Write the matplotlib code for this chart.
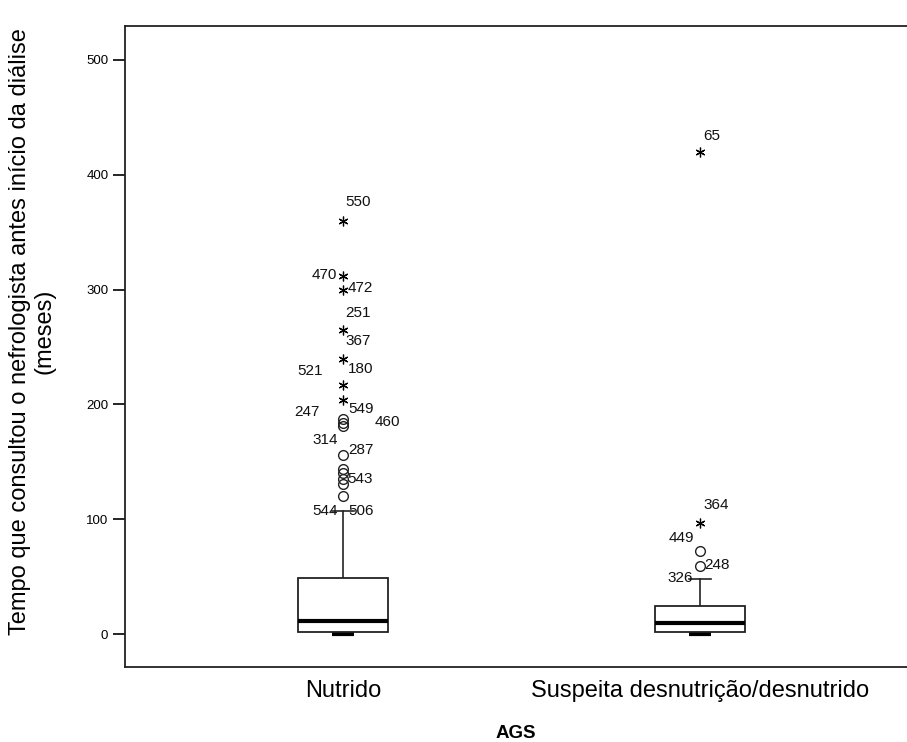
import numpy as np
import matplotlib
matplotlib.use("Agg")
import matplotlib.pyplot as plt

plt.rcParams["font.family"] = ["Liberation Sans", "DejaVu Sans"]

categories = ["Nutrido", "Suspeita desnutrição/desnutrido"]

# estatisticas das caixas (meses)
q1 = [2, 2]
median = [11.5, 9.5]
q3 = [48.5, 24.5]
whisk_lo = [0, 0]
whisk_hi = [107, 48]

# outliers: circulos (moderados) e asteriscos (extremos)
circ_nutr = [187, 184, 181, 156, 144, 140, 135, 131, 120]
star_nutr = [360, 312, 300, 265, 240, 217, 204]
circ_desn = [72, 59]
star_desn = [420, 97]

# rotulos dos casos: (texto, x, y)
case_labels = [
    ("550", 1.042, 376), ("470", 0.947, 313), ("472", 1.048, 301),
    ("251", 1.042, 280), ("367", 1.042, 255), ("521", 0.908, 229),
    ("180", 1.048, 231), ("247", 0.899, 193), ("549", 1.050, 196),
    ("460", 1.123, 185), ("314", 0.950, 169), ("287", 1.050, 160),
    ("543", 1.048, 135), ("544", 0.950, 107), ("506", 1.050, 107),
    ("364", 2.045, 112), ("449", 1.947, 84), ("248", 2.048, 60),
    ("326", 1.944, 49), ("65", 2.034, 434),
]

fig = plt.figure(figsize=(9.07, 7.42), dpi=100)
ax = fig.add_axes([0.1378, 0.101, 0.8622, 0.864])

box_w = 0.252
cap_w = 0.064
lc = "#222222"
for i in range(2):
    x = i + 1
    ax.add_patch(plt.Rectangle((x - box_w / 2, q1[i]), box_w, q3[i] - q1[i],
                               facecolor="white", edgecolor=lc, lw=1.3, zorder=2))
    ax.plot([x - box_w / 2, x + box_w / 2], [median[i]] * 2, color="black", lw=3, zorder=3,
            solid_capstyle="butt")
    ax.plot([x, x], [q3[i], whisk_hi[i]], color=lc, lw=1.2, zorder=1)
    ax.plot([x - cap_w / 2, x + cap_w / 2], [whisk_hi[i]] * 2, color=lc, lw=1.2, zorder=1)
    ax.plot([x - cap_w / 2, x + cap_w / 2], [whisk_lo[i]] * 2, color="black", lw=3, zorder=1,
            solid_capstyle="butt")

ax.plot([1] * len(circ_nutr), circ_nutr, "o", mfc="none", mec=lc, ms=7, mew=1.0, zorder=4)
ax.plot([2] * len(circ_desn), circ_desn, "o", mfc="none", mec=lc, ms=7, mew=1.0, zorder=4)
ax.plot([1] * len(star_nutr), star_nutr, marker=(6, 2, 0), ls="none", color="black",
        ms=7, mew=0.9, zorder=4)
ax.plot([2] * len(star_desn), star_desn, marker=(6, 2, 0), ls="none", color="black",
        ms=7, mew=0.9, zorder=4)

for txt, x, y in case_labels:
    ax.text(x, y, txt, fontsize=11, ha="center", va="center", color="#111111", zorder=5)

ax.set_xlim(0.389, 2.58)
ax.set_ylim(-28.7, 529.6)
ax.set_yticks([0, 100, 200, 300, 400, 500])
ax.set_xticks([1, 2])
ax.set_xticklabels(categories, fontsize=17)
ax.tick_params(axis="x", length=0, pad=9)
ax.tick_params(axis="y", length=9, width=1.2, labelsize=9.5, pad=3)
for side in ["left", "bottom", "top"]:
    ax.spines[side].set_linewidth(1.3)
    ax.spines[side].set_color(lc)
ax.spines["right"].set_visible(False)

ax.set_ylabel("Tempo que consultou o nefrologista antes início da diálise\n(meses)",
              fontsize=17, labelpad=22, linespacing=1.15, y=0.523)
ax.set_xlabel("AGS", fontsize=13.5, fontweight="bold", labelpad=17)

fig.savefig("out.png", dpi=100)
